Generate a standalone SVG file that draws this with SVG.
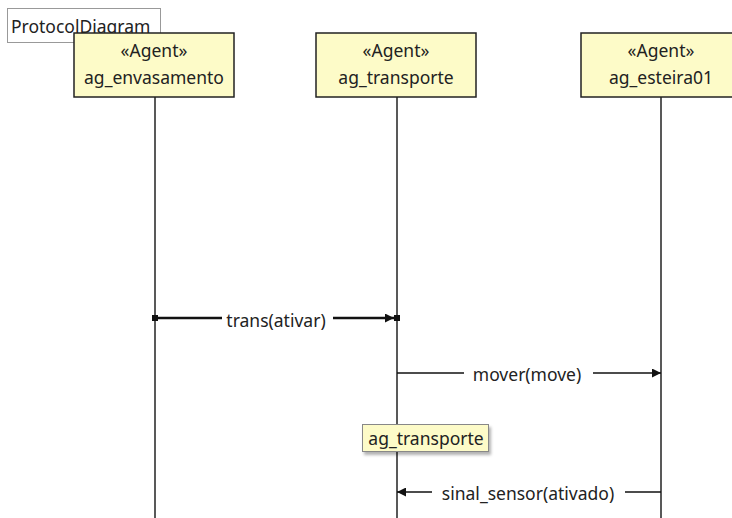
<svg xmlns="http://www.w3.org/2000/svg" width="732" height="518" viewBox="0 0 732 518">
  <style>
    text { font-family: "Noto Sans", "Open Sans", "DejaVu Sans", sans-serif; font-size: 17.5px; fill: #222; }
    .agent { fill: #fdfbc8; stroke: #222; stroke-width: 1.5; }
    .life { stroke: #222; stroke-width: 1.5; fill: none; }
    .msg { stroke: #111; stroke-width: 1.5; fill: none; }
    .msg-bold { stroke: #111; stroke-width: 2.5; fill: none; }
    .label { text-anchor: middle; }
  </style>
  <defs>
    <marker id="arrow" viewBox="0 0 10 10" refX="10" refY="5" markerWidth="11" markerHeight="9" markerUnits="userSpaceOnUse" orient="auto">
      <path d="M0,0 L10,5 L0,10 z" fill="#111"/>
    </marker>
    <filter id="shadow" x="-10%" y="-20%" width="130%" height="160%">
      <feDropShadow dx="2" dy="3" stdDeviation="1.5" flood-color="#000" flood-opacity="0.3"/>
    </filter>
  </defs>

  <rect width="732" height="518" fill="#fff"/>

  <!-- frame title -->
  <g id="frame">
    <rect x="7.5" y="8.5" width="153" height="34" fill="#fff" stroke="#999" stroke-width="1"/>
    <text x="11" y="33">ProtocolDiagram</text>
  </g>

  <!-- lifelines -->
  <g id="lifelines">
    <line class="life" x1="155" y1="97" x2="155" y2="518"/>
    <line class="life" x1="397" y1="97" x2="397" y2="518"/>
    <line class="life" x1="661" y1="97" x2="661" y2="518"/>
  </g>

  <g id="ag_envasamento">
    <rect class="agent" x="74" y="33" width="160" height="64"/>
    <text class="label" x="154" y="57">«Agent»</text>
    <text class="label" x="154" y="84">ag_envasamento</text>
  </g>

  <g id="ag_transporte">
    <rect class="agent" x="316" y="33" width="160" height="64"/>
    <text class="label" x="396" y="57">«Agent»</text>
    <text class="label" x="396" y="84">ag_transporte</text>
  </g>

  <g id="ag_esteira01">
    <rect class="agent" x="581" y="33" width="160" height="64"/>
    <text class="label" x="661" y="57">«Agent»</text>
    <text class="label" x="661" y="84">ag_esteira01</text>
  </g>

  <!-- messages -->
  <g id="connectors">
    <rect x="152" y="315" width="6" height="6" fill="#111"/>
    <rect x="394" y="315" width="6" height="6" fill="#111"/>
    <line class="msg-bold" x1="158" y1="318" x2="222" y2="318"/>
    <line class="msg-bold" x1="333" y1="318" x2="394" y2="318" marker-end="url(#arrow)"/>
    <text class="label" x="276" y="327">trans(ativar)</text>

    <line class="msg" x1="397" y1="373" x2="464" y2="373"/>
    <line class="msg" x1="593" y1="373" x2="661" y2="373" marker-end="url(#arrow)"/>
    <text class="label" x="527" y="381">mover(move)</text>

    <line class="msg" x1="661" y1="492" x2="625" y2="492"/>
    <line class="msg" x1="432" y1="492" x2="397" y2="492" marker-end="url(#arrow)"/>
    <text class="label" x="528" y="500">sinal_sensor(ativado)</text>
  </g>

  <!-- note -->
  <g id="note_ag_transporte">
    <rect x="362.5" y="424.5" width="126" height="27" fill="#fdfbc8" stroke="#888" stroke-width="1" filter="url(#shadow)"/>
    <text class="label" x="426" y="445">ag_transporte</text>
  </g>
</svg>
